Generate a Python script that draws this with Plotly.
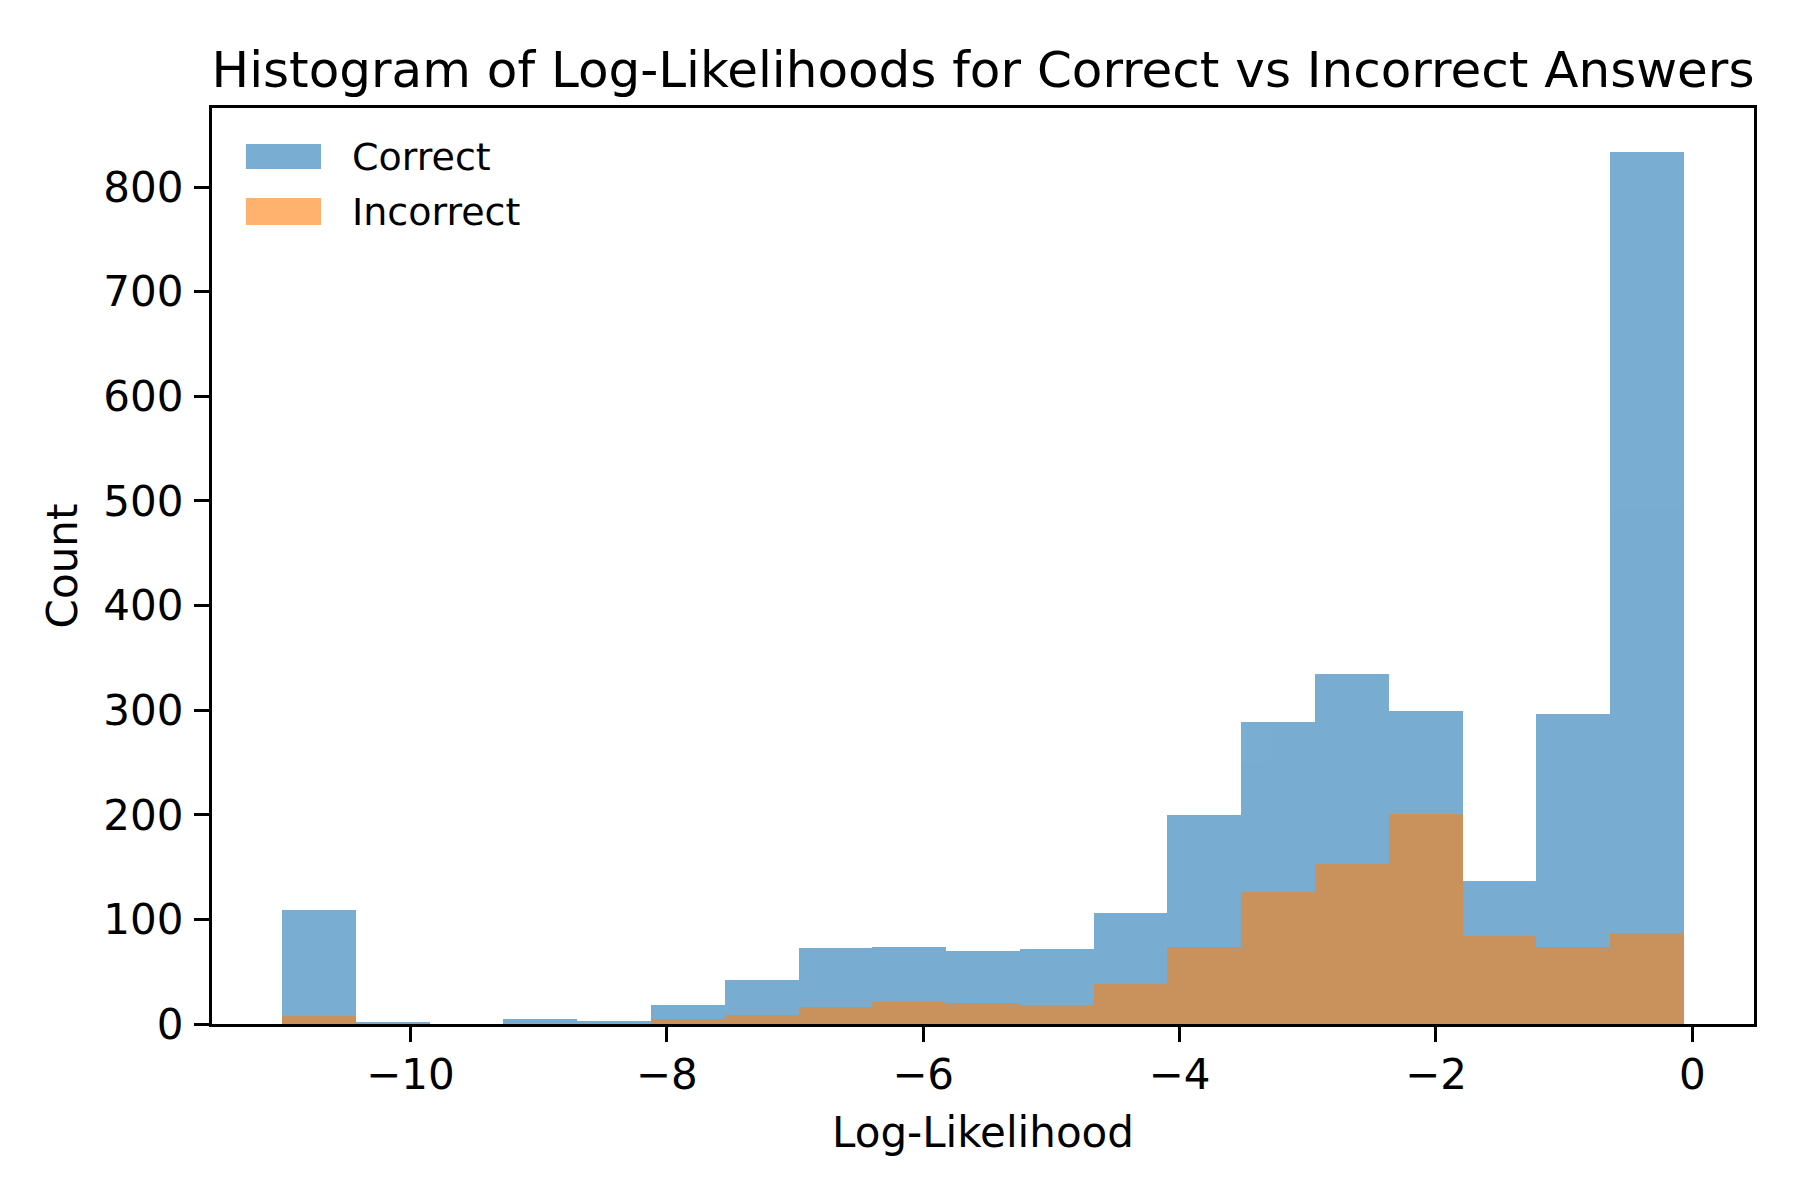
import numpy as np
import plotly.graph_objects as go

# ---- data ----
bin_min = -11.0
bin_max = -0.066
correct_counts = [109, 1, 0, 5, 3, 18, 42, 73, 74, 70, 72, 106, 200, 289, 335, 299, 137, 296, 834]
incorrect_counts = [8, 0, 0, 0, 0, 5, 9, 16, 21, 20, 18, 38, 74, 126, 153, 201, 84, 74, 87]
series_names = ["Correct", "Incorrect"]
x_tick_vals = [-10, -8, -6, -4, -2, 0]
x_tick_text = ["\u221210", "\u22128", "\u22126", "\u22124", "\u22122", "0"]
y_tick_vals = [0, 100, 200, 300, 400, 500, 600, 700, 800]

n_bins = len(correct_counts)
edges = np.linspace(bin_min, bin_max, n_bins + 1)
centers = (edges[:-1] + edges[1:]) / 2
width = edges[1] - edges[0]

FONT = "DejaVu Sans"
C_BLUE = "#1f77b4"
C_ORANGE = "#ff7f0e"

W, H = 1792, 1192  # page body has an 8px margin

fig = go.Figure()
fig.add_trace(go.Bar(x=centers, y=correct_counts, width=width, name=series_names[0],
                     marker=dict(color=C_BLUE, line=dict(width=0)), opacity=0.6,
                     showlegend=False))
fig.add_trace(go.Bar(x=centers, y=incorrect_counts, width=width, name=series_names[1],
                     marker=dict(color=C_ORANGE, line=dict(width=0)), opacity=0.6,
                     showlegend=False))

span = bin_max - bin_min
xr = [bin_min - 0.05 * span, bin_max + 0.05 * span]
ymax = max(max(correct_counts), max(incorrect_counts)) * 1.05

# legend drawn as patches + labels (matplotlib style, frameless)
legend_rows = [(0.9607, 0.9334, C_BLUE), (0.9017, 0.8723, C_ORANGE)]
shapes = []
annotations = []
for (y1, y0, col), name in zip(legend_rows, series_names):
    shapes.append(dict(type="rect", xref="paper", yref="paper", x0=0.022, x1=0.0707,
                       y0=y0, y1=y1, fillcolor=col, opacity=0.6, line=dict(width=0)))
    annotations.append(dict(xref="paper", yref="paper", x=0.0895, y=(y0 + y1) / 2,
                            xanchor="left", yanchor="middle", text=name, showarrow=False,
                            font=dict(family=FONT, size=38, color="black")))

fig.update_layout(
    width=W, height=H,
    barmode="overlay", bargap=0,
    paper_bgcolor="white", plot_bgcolor="white",
    margin=dict(l=204, r=46, t=100, b=176, autoexpand=False),
    font=dict(family=FONT, color="black", size=42),
    title=dict(text="Histogram of Log-Likelihoods for Correct vs Incorrect Answers",
               x=0.5, xref="paper", xanchor="center",
               y=(H - 61) / H, yref="container", yanchor="middle",
               font=dict(family=FONT, size=50, color="black")),
    shapes=shapes,
    annotations=annotations,
    showlegend=False,
)
fig.update_xaxes(range=xr, tickvals=x_tick_vals, ticktext=x_tick_text,
                 showgrid=False, zeroline=False, showline=True, linecolor="black",
                 linewidth=3.3, mirror=True, ticks="outside", ticklen=15, tickwidth=3.3,
                 tickcolor="black", tickfont=dict(family=FONT, size=42, color="black"),
                 ticklabelstandoff=-4,
                 title=dict(text="Log-Likelihood", standoff=21,
                            font=dict(family=FONT, size=42, color="black")))
fig.update_yaxes(range=[0, ymax], tickvals=y_tick_vals,
                 showgrid=False, zeroline=False, showline=True, linecolor="black",
                 linewidth=3.3, mirror=True, ticks="outside", ticklen=15, tickwidth=3.3,
                 tickcolor="black", tickfont=dict(family=FONT, size=42, color="black"),
                 ticklabelstandoff=2,
                 title=dict(text="Count", standoff=13,
                            font=dict(family=FONT, size=42, color="black")))

fig.write_html("out.html")
